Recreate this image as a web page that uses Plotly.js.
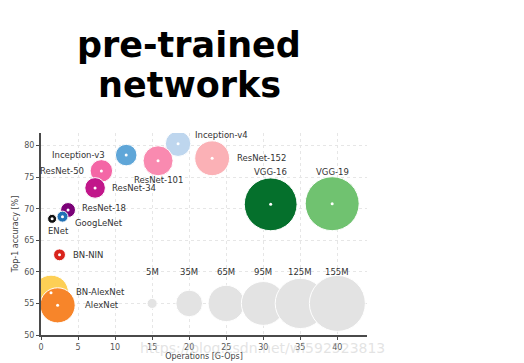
<!DOCTYPE html>
<html>
<head>
<meta charset="utf-8">
<script src="https://cdn.plot.ly/plotly-3.0.1.min.js"></script>
<style>html,body{margin:0;padding:0;background:#fff;}#chart{width:524px;height:363px;}</style>
</head>
<body>
<div id="chart"></div>
<script>
// ---- data ----
const names  = ["Inception-v4","ResNet-152","ResNet-101","Inception-v3","ResNet-50","ResNet-34","ResNet-18","GoogLeNet","ENet","BN-NIN","BN-AlexNet","AlexNet","VGG-16","VGG-19"];
const ops    = [18.5, 23.1, 15.8, 11.5, 8.15, 7.3, 3.65, 2.9, 1.5, 2.5, 1.35, 2.24, 31.0, 39.3];   // G-Ops
const acc    = [80.3, 78.0, 77.6, 78.5, 76.0, 73.3, 69.8, 68.75, 68.4, 62.7, 56.7, 54.7, 70.7, 70.8]; // Top-1 %
const params = [32, 60, 44.5, 23, 25, 21, 11, 6, 4, 7, 61, 61, 138, 144];                          // M params

const legendLabels = ["5M","35M","65M","95M","125M","155M"];
const legendX      = [15, 20, 25, 30, 35, 40];
const legendY      = [55, 55, 55, 55, 55, 55];
const legendParams = [5, 35, 65, 95, 125, 155];

const xTicks = [0,5,10,15,20,25,30,35,40];
const yTicks = [50,55,60,65,70,75,80];

// ---- styles ----
const colors = ["#bed6ee","#fbb1b6","#f98ab0","#5fa6d8","#f466a6","#c1168a","#7b0177","#2272b6","#111111","#d9241c","#fdcf55","#f7852a","#05702c","#70c270"];
const labelPos = { // [xshift, yshift, xanchor]
  "Inception-v4":[15,9,"left"], "ResNet-152":[23,0,"left"], "ResNet-101":[0,-19,"center"],
  "Inception-v3":[-19,0,"right"], "ResNet-50":[-15,0,"right"], "ResNet-34":[15,0,"left"],
  "ResNet-18":[12,2,"left"], "GoogLeNet":[11,-6,"left"], "ENet":[6,-12,"center"],
  "BN-NIN":[11,0,"left"], "BN-AlexNet":[23,1,"left"], "AlexNet":[25,0,"left"],
  "VGG-16":[0,32,"center"], "VGG-19":[0,32,"center"]
};
const SIZEREF = 0.0989;
const lblFont = {family:"DejaVu Sans", size:8.5, color:"#333"};

const traces = [
  {type:"scatter", mode:"markers", x:legendX, y:legendY, hoverinfo:"skip",
   marker:{size:legendParams, sizemode:"area", sizeref:SIZEREF, color:"#e3e3e3", opacity:1, line:{color:"#fff", width:1}}},
  {type:"scatter", mode:"markers", x:ops, y:acc, text:names, hoverinfo:"text",
   marker:{size:params, sizemode:"area", sizeref:SIZEREF, color:colors, opacity:1, line:{color:"#fff", width:1}}},
  {type:"scatter", mode:"markers", x:ops, y:acc, hoverinfo:"skip",
   marker:{size:3, color:"#fff", line:{width:0}}}
];

const annotations = [];
names.forEach((n,i)=>{
  const p = labelPos[n];
  annotations.push({x:ops[i], y:acc[i], xref:"x", yref:"y", text:n, showarrow:false,
    xanchor:p[2], yanchor:"middle", xshift:p[0], yshift:p[1], font:lblFont});
});
legendLabels.forEach((t,i)=>{
  annotations.push({x:legendX[i], y:60, xref:"x", yref:"y", text:t, showarrow:false,
    xanchor:"center", yanchor:"middle", font:lblFont});
});
annotations.push({x:0.454, y:1.435, xref:"paper", yref:"paper", text:"pre-trained", showarrow:false,
  xanchor:"center", yanchor:"middle", font:{family:"DejaVu Sans", size:35, color:"#000", weight:700}});
annotations.push({x:0.454, y:1.237, xref:"paper", yref:"paper", text:"networks", showarrow:false,
  xanchor:"center", yanchor:"middle", font:{family:"DejaVu Sans", size:35, color:"#000", weight:700}});
annotations.push({x:0.68, y:-0.065, xref:"paper", yref:"paper", text:"https://blog.csdn.net/wl592523813", showarrow:false,
  xanchor:"center", yanchor:"middle", font:{family:"DejaVu Sans", size:14, color:"rgba(200,200,200,0.5)"}});

const layout = {
  width:524, height:363, paper_bgcolor:"#fff", plot_bgcolor:"#fff", showlegend:false,
  margin:{l:41, r:157, t:133, b:28, pad:0},
  xaxis:{range:[0,44], tickvals:xTicks, showline:true, linecolor:"#4a4a4a", linewidth:2,
    ticks:"outside", ticklen:3, tickcolor:"#4a4a4a", tickfont:{family:"DejaVu Sans", size:8, color:"#555"},
    showgrid:true, gridcolor:"#e6e6e6", griddash:"dot", zeroline:false,
    title:{text:"Operations [G-Ops]", font:{family:"DejaVu Sans", size:8, color:"#444"}, standoff:2}},
  yaxis:{range:[50,82], tickvals:yTicks, showline:true, linecolor:"#4a4a4a", linewidth:2,
    ticks:"outside", ticklen:3, tickcolor:"#4a4a4a", tickfont:{family:"DejaVu Sans", size:8, color:"#555"},
    showgrid:true, gridcolor:"#e6e6e6", griddash:"dot", zeroline:false,
    title:{text:"Top-1 accuracy [%]", font:{family:"DejaVu Sans", size:8, color:"#444"}, standoff:4}},
  annotations:annotations
};
Plotly.newPlot("chart", traces, layout, {displayModeBar:false, staticPlot:true});
</script>
</body>
</html>
